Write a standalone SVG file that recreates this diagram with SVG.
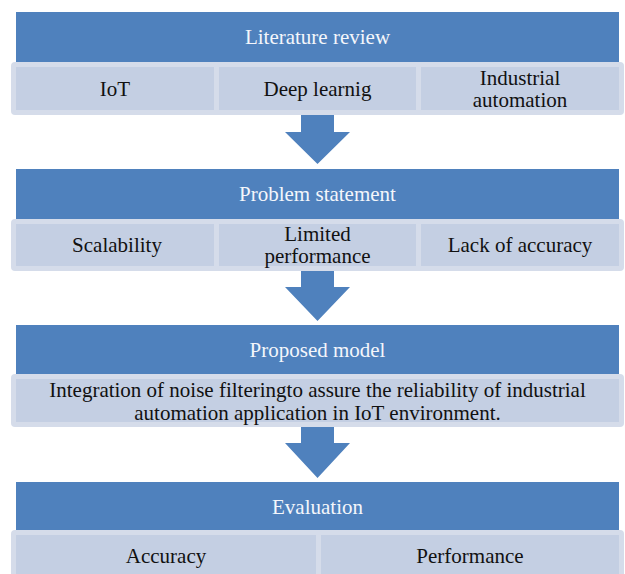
<svg xmlns="http://www.w3.org/2000/svg" width="625" height="574" viewBox="0 0 625 574">
<style>
.hdr{fill:#4f81bd}
.band{fill:#d5dcea}
.cell{fill:#c4cfe3}
.arrow{fill:#4f81bd}
text{font-family:'Liberation Serif','Times New Roman',serif;font-size:21px;text-anchor:middle;dominant-baseline:central}
.ht{fill:#f4f6fb}
.ct{fill:#111}
</style>
<rect width="625" height="574" fill="#fff"/>
<g id="connectors">
<polygon class="arrow" points="301,114 334,114 334,132 350,132 317.5,164 285,132 301,132"/>
<polygon class="arrow" points="301,270 334,270 334,287 350,287 317.5,321 285,287 301,287"/>
<polygon class="arrow" points="301,426 334,426 334,443 350,443 317.5,478 285,443 301,443"/>
</g>
<g id="literature-review">
<rect class="hdr" x="16" y="12" width="603" height="50"/>
<text class="ht" x="317.5" y="37">Literature review</text>
<rect class="band" x="11" y="62" width="613" height="53" rx="4"/>
<rect class="cell" x="16" y="67" width="198" height="43"/>
<rect class="cell" x="219" y="67" width="197" height="43"/>
<rect class="cell" x="421" y="67" width="198" height="43"/>
<text class="ct" x="115" y="89">IoT</text>
<text class="ct" x="317.5" y="89">Deep learnig</text>
<text class="ct" x="520" y="78">Industrial</text>
<text class="ct" x="520" y="100">automation</text>
</g>
<g id="problem-statement">
<rect class="hdr" x="16" y="169" width="603" height="50"/>
<text class="ht" x="317.5" y="194">Problem statement</text>
<rect class="band" x="11" y="219" width="613" height="52" rx="4"/>
<rect class="cell" x="16" y="224" width="198" height="42"/>
<rect class="cell" x="219" y="224" width="197" height="42"/>
<rect class="cell" x="421" y="224" width="198" height="42"/>
<text class="ct" x="117" y="245">Scalability</text>
<text class="ct" x="317.5" y="234">Limited</text>
<text class="ct" x="317.5" y="256">performance</text>
<text class="ct" x="520" y="245">Lack of accuracy</text>
</g>
<g id="proposed-model">
<rect class="hdr" x="16" y="325" width="603" height="50"/>
<text class="ht" x="317.5" y="350">Proposed model</text>
<rect class="band" x="11" y="374" width="613" height="53" rx="4"/>
<rect class="cell" x="16" y="379" width="603" height="43"/>
<text class="ct" x="317.5" y="390">Integration of noise filteringto assure the reliability of industrial</text>
<text class="ct" x="317.5" y="413">automation application in IoT environment.</text>
</g>
<g id="evaluation">
<rect class="hdr" x="16" y="482" width="603" height="48"/>
<text class="ht" x="317.5" y="507">Evaluation</text>
<rect class="band" x="11" y="530" width="613" height="54" rx="4"/>
<rect class="cell" x="16" y="535" width="300" height="45"/>
<rect class="cell" x="321" y="535" width="298" height="45"/>
<text class="ct" x="166" y="556">Accuracy</text>
<text class="ct" x="470" y="556">Performance</text>
</g>
</svg>
